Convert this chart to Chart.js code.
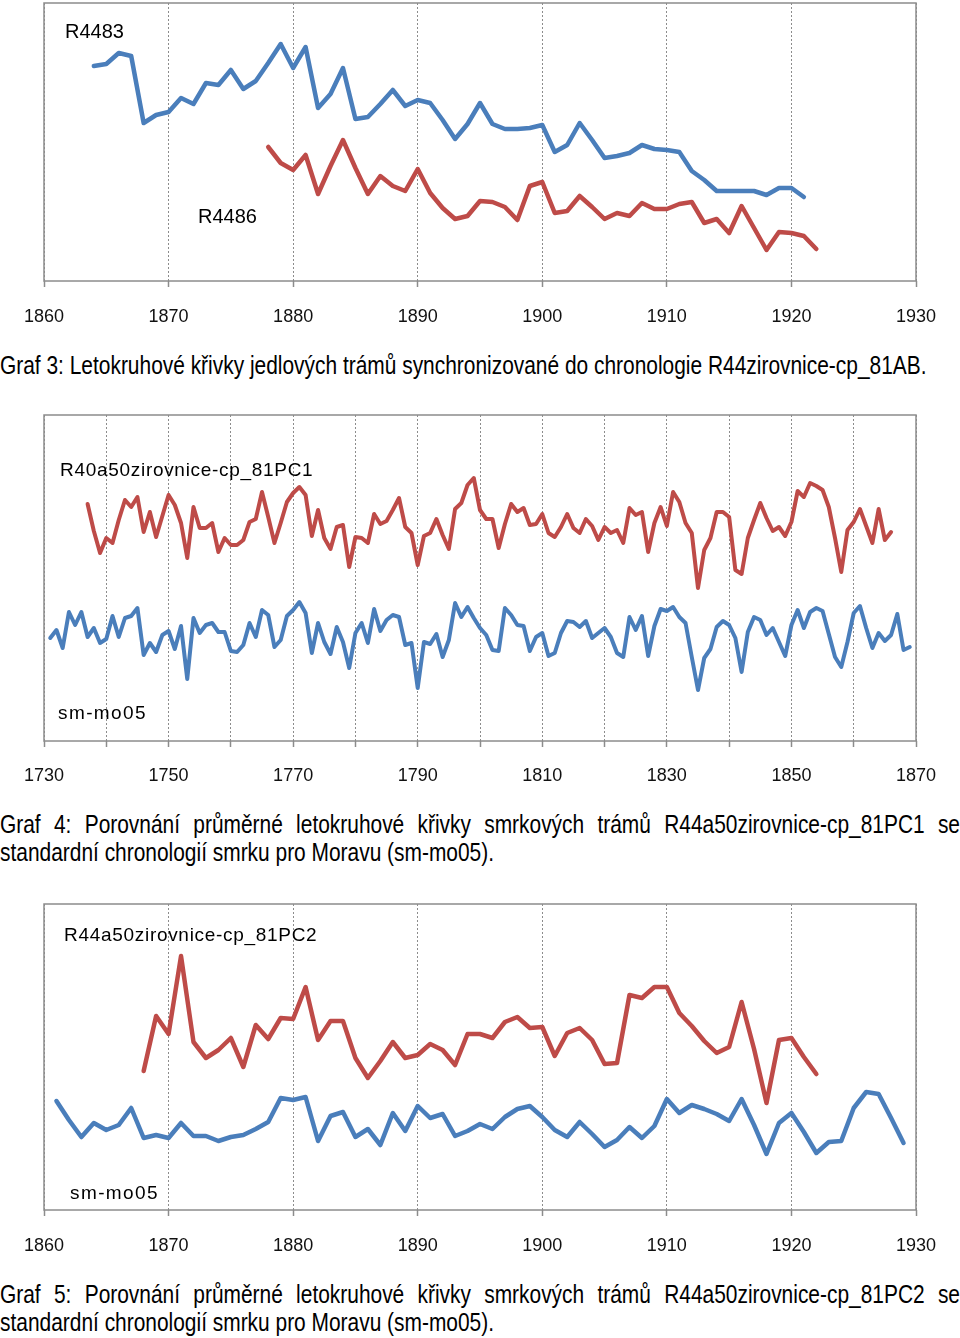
<!DOCTYPE html>
<html><head><meta charset="utf-8">
<script src="https://cdn.jsdelivr.net/npm/chart.js@4.4.0/dist/chart.umd.min.js"></script>
<style>
html,body{margin:0;padding:0;background:#fff;}
#page{position:relative;width:960px;height:1338px;overflow:hidden;background:#fff;}
canvas{position:absolute;left:0;}
.cap{position:absolute;left:0;font-family:"Liberation Sans",Arial,sans-serif;font-size:25.5px;line-height:28px;color:#000;white-space:nowrap;transform-origin:0 0;}
.just{white-space:normal;text-align:justify;text-align-last:justify;}
</style></head>
<body><div id="page">
<canvas id="c1" width="960" height="330" style="top:0px"></canvas>
<div class="cap" id="cap3" style="top:351px">Graf 3: Letokruhové křivky jedlových trámů synchronizované do chronologie R44zirovnice-cp_81AB.</div>
<canvas id="c2" width="960" height="390" style="top:400px"></canvas>
<div class="cap just" style="top:810px">Graf 4: Porovnání průměrné letokruhové křivky smrkových trámů R44a50zirovnice-cp_81PC1 se</div>
<div class="cap" id="cap4b" style="top:838px">standardní chronologií smrku pro Moravu (sm-mo05).</div>
<canvas id="c3" width="960" height="369" style="top:890px"></canvas>
<div class="cap just" style="top:1280px">Graf 5: Porovnání průměrné letokruhové křivky smrkových trámů R44a50zirovnice-cp_81PC2 se</div>
<div class="cap" style="top:1308px">standardní chronologií smrku pro Moravu (sm-mo05).</div>
</div>
<script>
// ---------- Graf 3 (years 1860-1930) ----------
const g3TickLabels = ['1860','1870','1880','1890','1900','1910','1920','1930'];
const r4483Start = 1864;
const r4483 = [215,217,228,225,158,166,169,183,177,198,196,211,192,200,218,237,213,234,173,187,213,162,164,177,191,175,181,178,161,142,157,178,157,152,152,153,156,129,136,158,141,123,125,128,136,132,131,129,110,101,90,90,90,90,86,93,93,84];
const r4486Start = 1878;
const r4486 = [134,118,111,126,87,115,141,113,87,105,95,90,112,88,73,62,65,80,79,74,61,95,99,68,70,85,74,62,68,65,78,72,72,77,79,58,62,48,75,53,31,49,48,45,32];

// ---------- Graf 4 (years 1730-1870) ----------
const g4TickLabels = ['1730','1750','1770','1790','1810','1830','1850','1870'];
const pc1Start = 1737;
const pc1 = [237,210,188,203,198,221,241,234,244,209,229,204,225,246,236,218,183,234,213,213,218,189,203,196,196,201,219,222,249,224,198,218,239,248,254,246,205,231,203,192,214,216,174,204,203,198,227,217,220,231,243,214,208,176,205,208,222,206,192,232,238,256,263,231,222,222,193,217,237,229,233,216,217,227,208,204,214,227,213,208,222,215,201,214,208,211,198,233,226,229,189,218,234,215,249,239,218,208,153,191,203,229,229,224,171,167,203,221,238,223,210,214,205,219,250,244,258,255,251,234,203,169,211,219,232,215,198,232,201,209];
const smmo05aStart = 1731;
const smmo05a = [103,111,93,129,116,129,104,113,98,102,125,104,123,125,133,86,98,89,106,110,92,115,62,123,108,116,118,109,109,90,89,96,118,104,131,126,94,101,125,131,139,128,88,118,99,87,114,99,73,108,118,98,132,110,121,126,124,96,98,53,99,97,107,84,101,138,124,134,123,113,106,91,90,133,126,116,115,90,104,108,85,88,108,120,119,114,120,103,108,113,104,88,84,124,111,125,85,115,132,130,134,124,118,84,51,83,92,114,120,116,103,69,109,124,121,106,113,99,85,116,131,113,129,133,130,107,84,74,99,128,135,113,93,108,100,106,127,91,94];

// ---------- Graf 5 (years 1860-1930) ----------
const g5TickLabels = ['1860','1870','1880','1890','1900','1910','1920','1930'];
const pc2Start = 1868;
const pc2 = [139,194,176,254,168,152,160,172,143,185,171,192,191,223,170,189,189,152,132,149,168,152,155,166,160,145,176,176,172,188,193,182,183,154,177,182,170,146,147,215,212,223,223,197,184,169,157,163,208,161,107,170,172,153,136];
const smmo05bStart = 1861;
const smmo05b = [109,90,73,87,80,85,102,72,75,72,87,74,74,69,73,75,81,88,112,110,113,69,94,98,73,81,65,97,79,104,92,96,74,79,86,81,93,101,104,93,80,73,88,76,63,70,83,72,84,111,97,105,101,96,89,111,85,56,87,97,78,57,68,69,102,118,116,92,67];

const BLUE = '#4A7EBB', RED = '#BE4B48';
const toPts = (start, arr) => arr.map((v, i) => ({x: start + i, y: v}));

const frameAndLabels = {
  id: 'frameAndLabels',
  afterDatasetsDraw(chart, args, opts) {
    const {ctx, chartArea: a} = chart;
    ctx.save();
    ctx.strokeStyle = '#8c8c8c';
    ctx.lineWidth = 1.5;
    ctx.strokeRect(a.left, a.top, a.right - a.left, a.bottom - a.top);
    ctx.fillStyle = '#000';
    ctx.textBaseline = 'middle';
    ctx.textAlign = 'left';
    (opts.labels || []).forEach(l => {
      ctx.font = l.font;
      ctx.letterSpacing = l.spacing || '0px';
      ctx.fillText(l.text, l.x, l.y);
    });
    ctx.restore();
  }
};

function makeChart(id, cfg) {
  return new Chart(document.getElementById(id), {
    type: 'line',
    data: {datasets: cfg.datasets},
    options: {
      responsive: false, animation: false, devicePixelRatio: 1,
      layout: {padding: {left: 44, right: 44, top: cfg.padTop, bottom: 0}},
      plugins: {legend: {display: false}, tooltip: {enabled: false}, frameAndLabels: {labels: cfg.labels}},
      elements: {point: {radius: 0}, line: {tension: 0, borderJoinStyle: 'round', borderCapStyle: 'round'}},
      scales: {
        x: {
          type: 'linear', min: cfg.xMin, max: cfg.xMax,
          afterFit(s) { s.height = 49; },
          ticks: {
            stepSize: 10, autoSkip: false, maxRotation: 0, minRotation: 0, padding: cfg.tickPad,
            color: '#111', font: {family: 'Liberation Sans', size: 18},
            callback: (v) => cfg.tickLabels.includes(String(v)) ? String(v) : ''
          },
          grid: {color: '#8c8c8c', lineWidth: 1, tickLength: 6, tickColor: '#8c8c8c', tickWidth: 1.5, tickBorderDash: []},
          border: {display: false, dash: [2, 2]}
        },
        y: {display: false, min: 0, max: cfg.yMax}
      }
    },
    plugins: [frameAndLabels]
  });
}

makeChart('c1', {
  xMin: 1860, xMax: 1930, yMax: 278, padTop: 3, tickPad: 19, tickLabels: g3TickLabels,
  datasets: [
    {label: 'R4483', data: toPts(r4483Start, r4483), borderColor: BLUE, borderWidth: 4.5},
    {label: 'R4486', data: toPts(r4486Start, r4486), borderColor: RED, borderWidth: 4.5}
  ],
  labels: [
    {text: 'R4483', x: 65, y: 32.5, font: '20px "Liberation Sans"'},
    {text: 'R4486', x: 198, y: 217.5, font: '20px "Liberation Sans"'}
  ]
});

makeChart('c2', {
  xMin: 1730, xMax: 1870, yMax: 326, padTop: 15, tickPad: 18, tickLabels: g4TickLabels,
  datasets: [
    {label: 'R40a50zirovnice-cp_81PC1', data: toPts(pc1Start, pc1), borderColor: RED, borderWidth: 4},
    {label: 'sm-mo05', data: toPts(smmo05aStart, smmo05a), borderColor: BLUE, borderWidth: 4}
  ],
  labels: [
    {text: 'R40a50zirovnice-cp_81PC1', x: 60, y: 70.5, font: '19px "Liberation Sans"', spacing: '0.7px'},
    {text: 'sm-mo05', x: 58, y: 313.5, font: '19px "Liberation Sans"', spacing: '1.4px'}
  ]
});

makeChart('c3', {
  xMin: 1860, xMax: 1930, yMax: 306, padTop: 14, tickPad: 19, tickLabels: g5TickLabels,
  datasets: [
    {label: 'R44a50zirovnice-cp_81PC2', data: toPts(pc2Start, pc2), borderColor: RED, borderWidth: 4.5},
    {label: 'sm-mo05', data: toPts(smmo05bStart, smmo05b), borderColor: BLUE, borderWidth: 4.5}
  ],
  labels: [
    {text: 'R44a50zirovnice-cp_81PC2', x: 64, y: 45.5, font: '19px "Liberation Sans"', spacing: '0.7px'},
    {text: 'sm-mo05', x: 70, y: 303.5, font: '19px "Liberation Sans"', spacing: '1.4px'}
  ]
});

(function fitCaptions() {
  const ref = document.getElementById('cap4b');
  const w = ref.getBoundingClientRect().width;
  const s = 494 / w;
  document.querySelectorAll('.just').forEach(el => { el.style.width = (960 / s) + 'px'; });
  document.querySelectorAll('.cap').forEach(el => { el.style.transform = 'scaleX(' + s + ')'; });
})();
</script>
</body></html>
